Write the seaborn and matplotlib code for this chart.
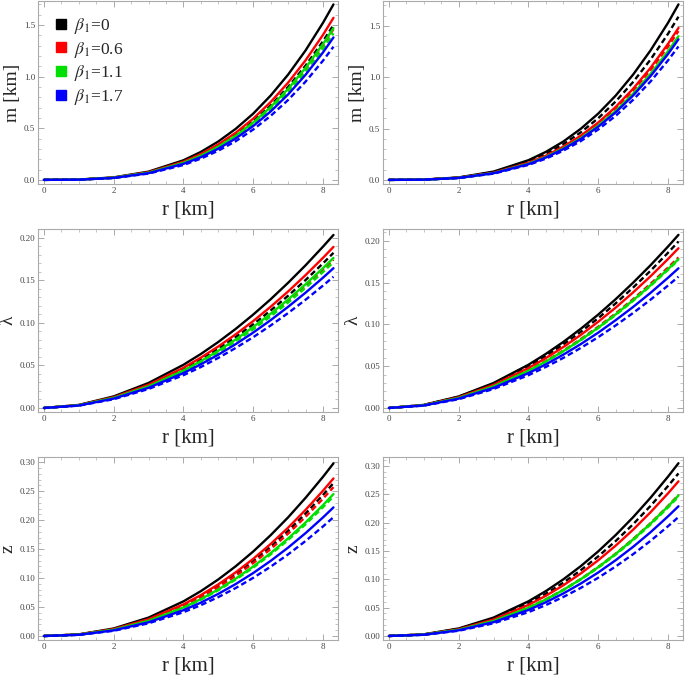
import pandas as pd
import matplotlib
matplotlib.use('Agg')
import matplotlib.pyplot as plt
import seaborn as sns
from matplotlib.ticker import MultipleLocator
from matplotlib.lines import Line2D

sns.set_style("ticks")
plt.rcParams['font.family'] = ['Liberation Serif', 'DejaVu Serif']
plt.rcParams['mathtext.fontset'] = 'stix'

# radial coordinate [km]
r = [0, 1, 2, 3, 4, 4.5, 5, 5.5, 6, 6.5, 7, 7.5, 8, 8.3]
betas = ['0', '0.6', '1.1', '1.7']
colors = ['#000000', '#ff0000', '#00e000', '#0000ff']

# m [km] -- left column
m_left_solid = {
    '0':   [0, 0.003, 0.024, 0.080, 0.190, 0.271, 0.372, 0.495, 0.642, 0.817, 1.020, 1.254, 1.522, 1.70],
    '0.6': [0, 0.003, 0.022, 0.074, 0.176, 0.250, 0.344, 0.457, 0.593, 0.754, 0.942, 1.158, 1.405, 1.57],
    '1.1': [0, 0.003, 0.021, 0.069, 0.165, 0.234, 0.322, 0.428, 0.556, 0.706, 0.882, 1.085, 1.316, 1.47],
    '1.7': [0, 0.002, 0.019, 0.065, 0.155, 0.220, 0.302, 0.402, 0.522, 0.663, 0.828, 1.018, 1.235, 1.38],
}
m_left_dashed = {
    '0':   [0, 0.003, 0.021, 0.071, 0.168, 0.239, 0.328, 0.437, 0.567, 0.720, 0.900, 1.107, 1.343, 1.50],
    '0.6': [0, 0.003, 0.020, 0.069, 0.164, 0.233, 0.320, 0.425, 0.552, 0.701, 0.876, 1.077, 1.307, 1.46],
    '1.1': [0, 0.002, 0.020, 0.067, 0.159, 0.226, 0.311, 0.413, 0.537, 0.682, 0.852, 1.048, 1.271, 1.42],
    '1.7': [0, 0.002, 0.018, 0.061, 0.144, 0.206, 0.283, 0.375, 0.488, 0.620, 0.774, 0.952, 1.155, 1.29],
}
# m [km] -- right column
m_right_solid = {
    '0':   [0, 0.003, 0.024, 0.081, 0.192, 0.273, 0.374, 0.498, 0.646, 0.821, 1.026, 1.262, 1.530, 1.71],
    '0.6': [0, 0.003, 0.021, 0.070, 0.166, 0.236, 0.324, 0.431, 0.559, 0.711, 0.888, 1.092, 1.325, 1.48],
    '1.1': [0, 0.002, 0.020, 0.066, 0.157, 0.223, 0.307, 0.407, 0.529, 0.672, 0.840, 1.033, 1.253, 1.40],
    '1.7': [0, 0.002, 0.019, 0.065, 0.153, 0.218, 0.300, 0.399, 0.518, 0.658, 0.822, 1.011, 1.226, 1.37],
}
m_right_dashed = {
    '0':   [0, 0.003, 0.022, 0.075, 0.178, 0.253, 0.348, 0.463, 0.601, 0.764, 0.954, 1.173, 1.423, 1.59],
    '0.6': [0, 0.003, 0.020, 0.068, 0.162, 0.231, 0.318, 0.422, 0.548, 0.696, 0.870, 1.070, 1.298, 1.45],
    '1.1': [0, 0.002, 0.019, 0.065, 0.155, 0.220, 0.302, 0.402, 0.522, 0.663, 0.828, 1.018, 1.235, 1.38],
    '1.7': [0, 0.002, 0.018, 0.061, 0.146, 0.207, 0.285, 0.378, 0.491, 0.624, 0.780, 0.959, 1.164, 1.30],
}

# lambda -- left column
lam_left_solid = {
    '0':   [0, 0.0036, 0.0136, 0.0294, 0.0507, 0.0634, 0.0775, 0.0929, 0.1096, 0.1276, 0.1469, 0.1674, 0.1893, 0.203],
    '0.6': [0, 0.0034, 0.0126, 0.0273, 0.0472, 0.0591, 0.0722, 0.0865, 0.1020, 0.1188, 0.1367, 0.1559, 0.1762, 0.189],
    '1.1': [0, 0.0032, 0.0118, 0.0254, 0.0440, 0.0550, 0.0672, 0.0805, 0.0950, 0.1106, 0.1273, 0.1452, 0.1641, 0.176],
    '1.7': [0, 0.0029, 0.0110, 0.0237, 0.0410, 0.0513, 0.0626, 0.0750, 0.0885, 0.1031, 0.1187, 0.1353, 0.1529, 0.164],
}
lam_left_dashed = {
    '0':   [0, 0.0033, 0.0122, 0.0263, 0.0455, 0.0569, 0.0695, 0.0833, 0.0982, 0.1144, 0.1317, 0.1501, 0.1697, 0.182],
    '0.6': [0, 0.0031, 0.0116, 0.0252, 0.0435, 0.0544, 0.0664, 0.0796, 0.0939, 0.1094, 0.1259, 0.1435, 0.1623, 0.174],
    '1.1': [0, 0.0031, 0.0114, 0.0247, 0.0427, 0.0534, 0.0653, 0.0782, 0.0923, 0.1075, 0.1237, 0.1410, 0.1595, 0.171],
    '1.7': [0, 0.0028, 0.0103, 0.0223, 0.0385, 0.0481, 0.0588, 0.0705, 0.0831, 0.0968, 0.1114, 0.1270, 0.1436, 0.154],
}
# lambda -- right column
lam_right_solid = {
    '0':   [0, 0.0037, 0.0138, 0.0299, 0.0517, 0.0647, 0.0790, 0.0947, 0.1117, 0.1301, 0.1498, 0.1707, 0.1930, 0.207],
    '0.6': [0, 0.0034, 0.0128, 0.0276, 0.0477, 0.0597, 0.0729, 0.0874, 0.1031, 0.1200, 0.1382, 0.1575, 0.1781, 0.191],
    '1.1': [0, 0.0032, 0.0119, 0.0257, 0.0445, 0.0556, 0.0680, 0.0815, 0.0961, 0.1119, 0.1288, 0.1468, 0.1660, 0.178],
    '1.7': [0, 0.0030, 0.0112, 0.0241, 0.0417, 0.0522, 0.0638, 0.0764, 0.0901, 0.1050, 0.1208, 0.1377, 0.1557, 0.167],
}
lam_right_dashed = {
    '0':   [0, 0.0036, 0.0133, 0.0288, 0.0497, 0.0622, 0.0760, 0.0911, 0.1074, 0.1251, 0.1440, 0.1641, 0.1856, 0.199],
    '0.6': [0, 0.0032, 0.0120, 0.0260, 0.0450, 0.0563, 0.0687, 0.0824, 0.0972, 0.1131, 0.1302, 0.1485, 0.1679, 0.180],
    '1.1': [0, 0.0032, 0.0118, 0.0256, 0.0442, 0.0553, 0.0676, 0.0810, 0.0955, 0.1112, 0.1281, 0.1460, 0.1651, 0.177],
    '1.7': [0, 0.0028, 0.0105, 0.0227, 0.0392, 0.0491, 0.0599, 0.0718, 0.0847, 0.0987, 0.1136, 0.1295, 0.1464, 0.157],
}

# z -- left column
z_left_solid = {
    '0':   [0, 0.0028, 0.0130, 0.0318, 0.0598, 0.0775, 0.0977, 0.1205, 0.1459, 0.1741, 0.2048, 0.2385, 0.2748, 0.298],
    '0.6': [0, 0.0026, 0.0119, 0.0290, 0.0546, 0.0707, 0.0892, 0.1100, 0.1332, 0.1589, 0.1870, 0.2177, 0.2508, 0.272],
    '1.1': [0, 0.0023, 0.0107, 0.0261, 0.0492, 0.0637, 0.0803, 0.0991, 0.1200, 0.1431, 0.1684, 0.1960, 0.2259, 0.245],
    '1.7': [0, 0.0021, 0.0097, 0.0237, 0.0446, 0.0577, 0.0728, 0.0898, 0.1087, 0.1297, 0.1526, 0.1776, 0.2047, 0.222],
}
z_left_dashed = {
    '0':   [0, 0.0025, 0.0115, 0.0281, 0.0530, 0.0687, 0.0866, 0.1068, 0.1293, 0.1542, 0.1815, 0.2113, 0.2435, 0.264],
    '0.6': [0, 0.0024, 0.0112, 0.0274, 0.0516, 0.0668, 0.0843, 0.1039, 0.1259, 0.1501, 0.1767, 0.2057, 0.2370, 0.257],
    '1.1': [0, 0.0023, 0.0105, 0.0257, 0.0484, 0.0627, 0.0790, 0.0975, 0.1180, 0.1408, 0.1657, 0.1928, 0.2223, 0.241],
    '1.7': [0, 0.0019, 0.0090, 0.0219, 0.0411, 0.0533, 0.0672, 0.0829, 0.1004, 0.1197, 0.1409, 0.1640, 0.1891, 0.205],
}
# z -- right column
z_right_solid = {
    '0':   [0, 0.0029, 0.0133, 0.0325, 0.0612, 0.0793, 0.1000, 0.1233, 0.1494, 0.1782, 0.2097, 0.2441, 0.2813, 0.305],
    '0.6': [0, 0.0026, 0.0119, 0.0291, 0.0548, 0.0710, 0.0895, 0.1104, 0.1337, 0.1595, 0.1877, 0.2185, 0.2518, 0.273],
    '1.1': [0, 0.0024, 0.0108, 0.0264, 0.0498, 0.0645, 0.0813, 0.1003, 0.1214, 0.1449, 0.1705, 0.1984, 0.2287, 0.248],
    '1.7': [0, 0.0022, 0.0100, 0.0244, 0.0460, 0.0596, 0.0751, 0.0926, 0.1121, 0.1338, 0.1574, 0.1832, 0.2112, 0.229],
}
z_right_dashed = {
    '0':   [0, 0.0027, 0.0125, 0.0306, 0.0576, 0.0746, 0.0941, 0.1161, 0.1405, 0.1676, 0.1973, 0.2297, 0.2647, 0.287],
    '0.6': [0, 0.0024, 0.0109, 0.0265, 0.0500, 0.0648, 0.0816, 0.1007, 0.1219, 0.1454, 0.1712, 0.1992, 0.2296, 0.249],
    '1.1': [0, 0.0023, 0.0108, 0.0262, 0.0494, 0.0640, 0.0807, 0.0995, 0.1205, 0.1437, 0.1691, 0.1968, 0.2269, 0.246],
    '1.7': [0, 0.0020, 0.0092, 0.0224, 0.0421, 0.0546, 0.0689, 0.0849, 0.1028, 0.1227, 0.1444, 0.1680, 0.1937, 0.210],
}


def to_frame(solid, dashed):
    rows = []
    for kind, d in (('solid', solid), ('dashed', dashed)):
        for b in betas:
            for x, y in zip(r, d[b]):
                rows.append({'r': x, 'val': y, 'beta': b, 'kind': kind})
    return pd.DataFrame(rows)


W, H = 685, 680
# (left px, top px, ylabel, solid, dashed, ylim, major, minor)
panels = [
    (38, 1, 'm [km]', m_left_solid, m_left_dashed, (-0.04, 1.733), 0.5, 0.1),
    (383, 1, 'm [km]', m_right_solid, m_right_dashed, (-0.04, 1.743), 0.5, 0.1),
    (38, 229, 'λ', lam_left_solid, lam_left_dashed, (-0.0047, 0.210), 0.05, 0.01),
    (383, 229, 'λ', lam_right_solid, lam_right_dashed, (-0.0048, 0.214), 0.05, 0.01),
    (38, 457, 'z', z_left_solid, z_left_dashed, (-0.0069, 0.309), 0.05, 0.01),
    (383, 457, 'z', z_right_solid, z_right_dashed, (-0.0071, 0.316), 0.05, 0.01),
]

fig = plt.figure(figsize=(W / 100, H / 100), dpi=100)
pal = dict(zip(betas, colors))

for i, (lx, ty, ylab, solid, dashed, ylim, major, minor) in enumerate(panels):
    ax = fig.add_axes([lx / W, 1 - (ty + 183) / H, 300 / W, 183 / H])
    df = to_frame(solid, dashed)
    sns.lineplot(data=df, x='r', y='val', hue='beta', style='kind', palette=pal,
                 style_order=['solid', 'dashed'],
                 dashes={'solid': '', 'dashed': (2.4, 1.4)},
                 estimator=None, linewidth=1.7, legend=False, ax=ax)
    ax.set_xlim(-0.17, 8.43)
    ax.set_ylim(*ylim)
    ax.xaxis.set_major_locator(MultipleLocator(2))
    ax.xaxis.set_minor_locator(MultipleLocator(0.5))
    ax.yaxis.set_major_locator(MultipleLocator(major))
    ax.yaxis.set_minor_locator(MultipleLocator(minor))
    ax.tick_params(which='both', direction='in', top=True, right=True,
                   labelsize=6.5, colors='#444444', pad=2)
    ax.tick_params(which='major', length=4, width=0.7, color='#aaaaaa')
    ax.tick_params(which='minor', length=2, width=0.6, color='#bbbbbb')
    for s in ax.spines.values():
        s.set_color('#aaaaaa')
        s.set_linewidth(0.8)
    ax.set_xlabel('r [km]', fontsize=15, labelpad=4)
    ax.set_ylabel(ylab, fontsize=14, labelpad=2)

    if i == 0:
        handles = [Line2D([], [], marker='s', color=c, linestyle='', markersize=6.5)
                   for c in colors]
        labels = [r'$\beta_1$=' + b for b in betas]
        ax.legend(handles, labels, loc='upper left', frameon=False, fontsize=12.5,
                  handletextpad=0.35, labelspacing=0.22, borderaxespad=0.45,
                  handlelength=0.9, bbox_to_anchor=(0.0, 1.0))

fig.savefig('out.png', dpi=100)
